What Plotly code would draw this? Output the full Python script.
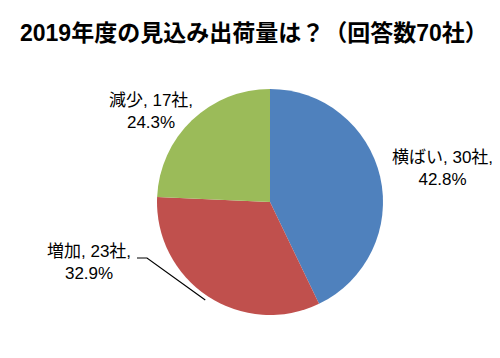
import math
import plotly.graph_objects as go

categories = ["横ばい", "増加", "減少"]
counts = [30, 23, 17]
percents = ["42.8%", "32.9%", "24.3%"]
colors = ["#4F81BD", "#C0504D", "#9BBB59"]
title = "2019年度の見込み出荷量は？（回答数70社）"

FONT = "Liberation Sans, Arial, Noto Sans CJK JP, sans-serif"
W, H = 500, 358
OFF = 8  # page body margin compensation
cx, cy, r = 270 - OFF, 202 - OFF, 113

fig = go.Figure(go.Pie(
    labels=categories, values=counts, sort=False, direction="clockwise",
    rotation=0, marker=dict(colors=colors, line=dict(width=0)),
    textinfo="none", hoverinfo="label+value+percent", showlegend=False,
    domain=dict(x=[(cx - r) / W, (cx + r) / W], y=[1 - (cy + r) / H, 1 - (cy - r) / H]),
))

label_pos = {"横ばい": (442, 168), "増加": (89, 262), "減少": (151, 111)}
for cat, n, p in zip(categories, counts, percents):
    x, y = label_pos[cat]
    x, y = x - OFF, y - OFF
    fig.add_annotation(x=x / W, y=1 - y / H, xref="paper", yref="paper",
                       text=f"{cat}, {n}社,<br>{p}", showarrow=False,
                       font=dict(family=FONT, size=17, color="#000"),
                       xanchor="center", yanchor="middle")

# leader line for 増加 to the mid-angle of its slice
total = sum(counts)
start = counts[0] / total
mid = (start + counts[1] / (2 * total)) * 2 * math.pi
ex, ey = cx + r * 1.04 * math.sin(mid), cy - r * 1.04 * math.cos(mid)
lx0, ly = 137 - OFF, 258 - OFF
lx1 = 147 - OFF
fig.add_shape(type="path", xref="paper", yref="paper",
              path=f"M {lx0/W},{1-ly/H} L {lx1/W},{1-ly/H} L {ex/W},{1-ey/H}",
              line=dict(color="#000", width=1.2))

fig.add_annotation(x=(254 - OFF) / W, y=1 - (33 - OFF) / H, xref="paper", yref="paper",
                   text=f"<b>{title}</b>", showarrow=False,
                   font=dict(family=FONT, size=23, color="#000"),
                   xanchor="center", yanchor="middle")

fig.update_layout(
    width=W, height=H, margin=dict(l=0, r=0, t=0, b=0),
    paper_bgcolor="white", plot_bgcolor="white",
)
fig.write_html("out.html")
